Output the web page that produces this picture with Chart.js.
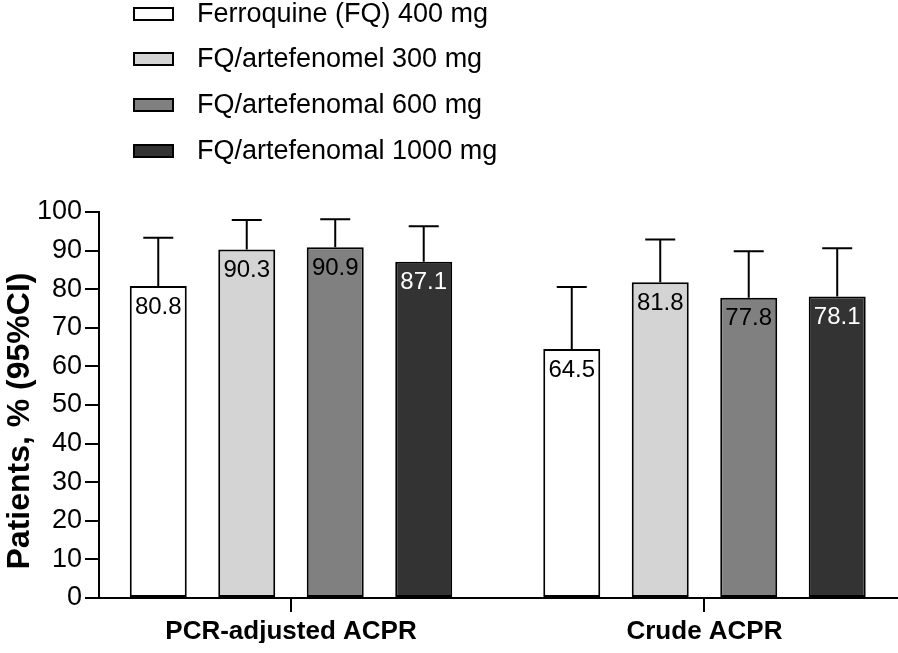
<!DOCTYPE html>
<html>
<head>
<meta charset="utf-8">
<script src="https://cdn.jsdelivr.net/npm/chart.js@4"></script>
<style>
  html, body { margin: 0; padding: 0; background: #fff; }
  #wrap { width: 898px; height: 653px; position: relative; }
</style>
</head>
<body>
<div id="wrap"><canvas id="myChart"></canvas></div>
<script>
// Chart data
const categories = ['PCR-adjusted ACPR', 'Crude ACPR'];
const seriesLabels = ['Ferroquine (FQ) 400 mg', 'FQ/artefenomel 300 mg', 'FQ/artefenomal 600 mg', 'FQ/artefenomal 1000 mg'];
const fq400 = [80.8, 64.5];
const fq300 = [90.3, 81.8];
const fq600 = [90.9, 77.8];
const fq1000 = [87.1, 78.1];
// upper limit of 95% CI
const fq400Upper = [93.3, 80.6];
const fq300Upper = [97.9, 92.9];
const fq600Upper = [98.1, 89.8];
const fq1000Upper = [96.3, 90.6];
const yTicks = [0, 10, 20, 30, 40, 50, 60, 70, 80, 90, 100];
const yTitle = 'Patients, % (95%CI)';

const FONT = "'Liberation Sans', Arial, Helvetica, sans-serif";
const fills = ['#ffffff', '#d4d4d4', '#808080', '#333333'];
const labelColors = ['#000', '#000', '#000', '#fff'];
const seriesValues = [fq400, fq300, fq600, fq1000];
const seriesUpper = [fq400Upper, fq300Upper, fq600Upper, fq1000Upper];

const datasets = seriesLabels.map((label, i) => ({
  label: label,
  data: seriesValues[i],
  upper: seriesUpper[i],
  backgroundColor: fills[i],
  borderColor: '#000',
  borderWidth: 2,
  borderSkipped: false,
  barPercentage: 0.644,
  categoryPercentage: 0.856
}));

// error bars (upper only) + value labels inside bars
const barExtras = {
  id: 'barExtras',
  afterDatasetsDraw(chart) {
    const ctx = chart.ctx;
    const y = chart.scales.y;
    ctx.save();
    chart.data.datasets.forEach((ds, i) => {
      const meta = chart.getDatasetMeta(i);
      meta.data.forEach((bar, j) => {
        const top = y.getPixelForValue(ds.upper[j]);
        ctx.strokeStyle = '#000';
        ctx.lineWidth = 2;
        ctx.beginPath();
        ctx.moveTo(bar.x, bar.y);
        ctx.lineTo(bar.x, top);
        ctx.moveTo(bar.x - 15, top);
        ctx.lineTo(bar.x + 15, top);
        ctx.stroke();
        ctx.fillStyle = labelColors[i];
        ctx.font = '24px ' + FONT;
        ctx.textAlign = 'center';
        ctx.textBaseline = 'middle';
        ctx.fillText(ds.data[j].toFixed(1), bar.x, bar.y + 21);
      });
    });
    ctx.restore();
  }
};

// legend stacked in one column, and the y title (sits a little below the axis middle)
const columnLegend = {
  id: 'columnLegend',
  afterDraw(chart) {
    const ctx = chart.ctx;
    const rows = [14, 59, 105, 151];
    ctx.save();
    chart.data.datasets.forEach((ds, i) => {
      const cy = rows[i];
      ctx.fillStyle = ds.backgroundColor;
      ctx.fillRect(134, cy - 6, 39, 12);
      ctx.strokeStyle = '#000';
      ctx.lineWidth = 2;
      ctx.strokeRect(134, cy - 6, 39, 12);
      ctx.fillStyle = '#000';
      ctx.font = '27px ' + FONT;
      ctx.textAlign = 'left';
      ctx.textBaseline = 'middle';
      ctx.fillText(ds.label, 197, cy + 1);
    });
    ctx.translate(20, 421);
    ctx.rotate(-Math.PI / 2);
    ctx.font = 'bold 32px ' + FONT;
    ctx.textAlign = 'center';
    ctx.textBaseline = 'middle';
    ctx.fillText(yTitle, 0, 0);
    ctx.restore();
  }
};

const chartOptions = {
  responsive: true,
  maintainAspectRatio: false,
  animation: false,
  layout: { padding: { top: 212, right: 0, bottom: 10, left: 0 } },
  plugins: {
    legend: { display: false },
    tooltip: { enabled: false }
  },
  scales: {
    x: {
      grid: { display: true, drawOnChartArea: false, offset: false, tickLength: 14, color: '#000', lineWidth: 2 },
      border: { color: '#000', width: 2 },
      ticks: { color: '#000', font: { family: FONT, size: 26, weight: 'bold' }, padding: 4 },
      // group centres sit a bit left of the even split in the original
      afterBuildTicks: (s) => { s._startValue = -0.4643; s._valueRange = 1.9323; },
      afterFit: (s) => { s.height = 45; }
    },
    y: {
      min: 0,
      max: 100,
      afterBuildTicks: (s) => { s.ticks = yTicks.map((v) => ({ value: v })); },
      grid: { display: true, drawOnChartArea: false, tickLength: 14, color: '#000', lineWidth: 2 },
      border: { color: '#000', width: 2 },
      ticks: { color: '#000', font: { family: FONT, size: 27 }, padding: 3 },
      afterFit: (s) => { s.width = 99; }
    }
  }
};

const myChart = new Chart(document.getElementById('myChart'), {
  type: 'bar',
  data: { labels: categories, datasets: datasets },
  options: chartOptions,
  plugins: [barExtras, columnLegend]
});
</script>
</body>
</html>
